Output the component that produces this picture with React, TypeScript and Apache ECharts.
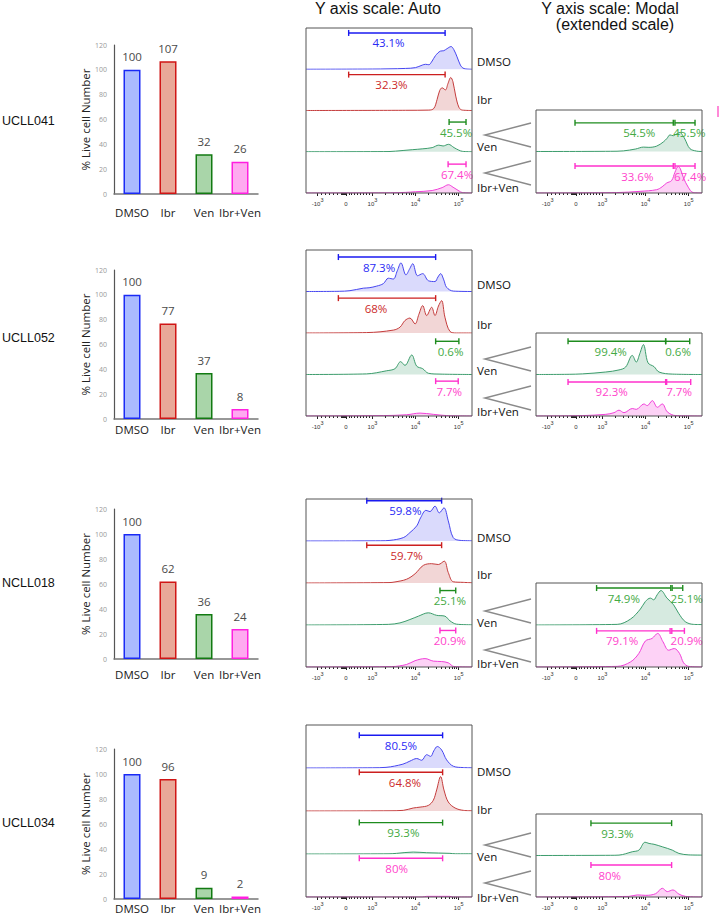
import React, { useEffect, useRef } from 'react';
import * as echarts from 'echarts';

type Pt = [number, number];
type Gate = [number, number, number, number, string];

// ---------------- data ----------------
const SAMPLES = ['UCLL041', 'UCLL052', 'NCLL018', 'UCLL034'];
const TREATMENTS = ['DMSO', 'Ibr', 'Ven', 'Ibr+Ven'];

const LIVE_UCLL041 = [100, 107, 32, 26];
const LIVE_UCLL052 = [100, 77, 37, 8];
const LIVE_NCLL018 = [100, 62, 36, 24];
const LIVE_UCLL034 = [100, 96, 9, 2];

// x axis in display units (0..100 across the panel)
const X_MAJOR = [7, 24, 40, 66, 92];
const X_LABELS: [string, string][] = [['-10', '3'], ['0', ''], ['10', '3'], ['10', '4'], ['10', '5']];

// histograms, [display x, % of row height]
const AUTO_UCLL041_DMSO: Pt[] = [[0, 0], [40, 0.5], [50, 1], [60, 2], [66, 4], [70, 10], [72, 12], [74, 11], [76, 20], [78, 33], [81, 44], [83, 45], [85, 50], [87.4, 55], [89, 48], [91, 30], [93, 10], [94.5, 3], [96, 1], [100, 0]];
const AUTO_UCLL041_IBR: Pt[] = [[0, 0], [60, 0.5], [74, 1], [77, 5], [79, 27], [80.5, 48], [82, 55], [84, 50], [85.5, 65], [87.2, 80], [88.5, 70], [90.2, 35], [92.2, 7], [94.2, 1], [100, 0]];
const AUTO_UCLL041_VEN: Pt[] = [[0, 0], [50, 0.5], [54, 1.5], [64, 5], [70, 7], [76, 10], [80, 16], [82.6, 14], [85.8, 18], [89.2, 10], [92, 4], [94.2, 1], [100, 0]];
const AUTO_UCLL041_IV: Pt[] = [[0, 0], [51, 0.5], [60, 1.5], [66, 3], [76, 6], [82, 13], [85.8, 20], [88.6, 14], [92.2, 5], [94.2, 1], [100, 0]];
const MODAL_UCLL041_VEN: Pt[] = [[0, 0], [45, 0.5], [52.6, 1.5], [60, 6], [64.7, 10.6], [68, 10], [72.7, 13], [76.7, 23], [79, 32], [80.7, 40], [82.7, 38], [84.5, 42], [86.7, 46], [88.5, 38], [89.7, 30], [92.7, 7], [96.7, 1], [100, 0]];
const MODAL_UCLL041_IV: Pt[] = [[0, 0], [48.6, 1], [62.7, 4], [72.7, 8], [76, 15], [78.7, 24], [81.7, 30], [83.7, 50], [85.7, 64], [87, 58], [88.7, 38], [91.7, 14], [94.7, 1], [100, 0]];

const AUTO_UCLL052_DMSO: Pt[] = [[0, 0], [20, 0.5], [26.5, 2], [34.5, 8], [38, 9], [42.6, 13], [46.6, 19], [49.6, 32], [52.6, 30], [55, 50], [57.2, 69], [60.2, 40], [62.5, 55], [64.3, 67], [67.2, 38], [70.3, 43], [73.7, 26], [77.7, 24], [79.5, 35], [81.1, 43], [83, 28], [84.7, 10], [88.7, 1], [100, 0]];
const AUTO_UCLL052_IBR: Pt[] = [[0, 0], [36.5, 1], [52.6, 7], [56.6, 14], [59.6, 30], [62.6, 36], [65.7, 22], [68, 45], [70.3, 66], [72.7, 42], [75.7, 62], [77.7, 42], [79.8, 65], [81.7, 78], [83.7, 38], [86.7, 4], [90.7, 0], [100, 0]];
const AUTO_UCLL052_VEN: Pt[] = [[0, 0], [36.5, 1.5], [48.6, 9], [53.6, 14], [57, 31], [59.6, 22], [63.7, 47], [66.7, 20], [70.3, 14], [73.7, 3], [80.7, 1], [100, 0]];
const AUTO_UCLL052_IV: Pt[] = [[0, 0], [46.6, 1], [60.6, 3], [68.7, 7], [76.7, 4], [84.7, 1], [100, 0]];
const MODAL_UCLL052_VEN: Pt[] = [[0, 0], [20, 0.5], [27.9, 1.5], [42, 6], [50, 11], [54, 18], [58, 46], [60.4, 30], [62.5, 50], [64.7, 72], [67.5, 28], [71.1, 19], [74.1, 6], [82.1, 1], [100, 0]];
const MODAL_UCLL052_IV: Pt[] = [[0, 0], [27.9, 1], [42, 4], [47, 8], [50, 14], [53, 8], [58, 18], [60.4, 16], [65, 29], [67, 25], [70.1, 37], [73.1, 21], [76.1, 29], [79.1, 10], [84.1, 1], [100, 0]];

const AUTO_NCLL018_DMSO: Pt[] = [[0, 0], [45, 0.5], [50.6, 1.5], [58.6, 8], [62.6, 20], [66.7, 36], [69, 55], [72.3, 73], [74.7, 70], [77.7, 83], [80.3, 67], [83.1, 79], [85.7, 48], [88.7, 8], [92.8, 1.5], [100, 0.5]];
const AUTO_NCLL018_IBR: Pt[] = [[0, 0], [50, 1], [53.6, 2.5], [60.6, 9], [65.7, 22], [70.7, 42], [75.7, 46], [79.7, 44], [83.3, 52], [85.7, 25], [88.7, 3], [94.8, 1.5], [100, 0.5]];
const AUTO_NCLL018_VEN: Pt[] = [[0, 0], [49.6, 1.5], [56.6, 5], [62.6, 13], [67.7, 21], [73.7, 29], [78.7, 23], [83.7, 21], [86.7, 10], [90.7, 2], [100, 0.5]];
const AUTO_NCLL018_IV: Pt[] = [[0, 0], [51.6, 1], [60.6, 6], [65.7, 15], [71.7, 20], [76.7, 14], [81.7, 13], [85.7, 10], [89.2, 1], [100, 0]];
const MODAL_NCLL018_VEN: Pt[] = [[0, 0], [48.9, 1.5], [56.9, 14], [62.9, 38], [65.9, 56], [68.9, 64], [70.9, 60], [73, 72], [75.3, 82], [78.9, 64], [82.9, 48], [85.9, 28], [89.9, 8], [94.8, 1.5], [100, 1]];
const MODAL_NCLL018_IV: Pt[] = [[0, 0], [48.9, 1.5], [56.9, 12], [61.9, 32], [65.9, 62], [69.9, 68], [73.3, 80], [76.5, 60], [79.9, 40], [83.3, 44], [86.5, 32], [88.9, 10], [92, 1.5], [100, 0]];

const AUTO_UCLL034_DMSO: Pt[] = [[0, 0], [40, 0.5], [48.2, 1.5], [58.4, 9], [62.6, 16], [66.7, 22], [69.7, 18], [72.7, 31], [75.1, 27], [77, 40], [79.1, 50], [81.7, 42], [84.7, 19], [88.8, 4], [94.8, 1], [100, 0.5]];
const AUTO_UCLL034_IBR: Pt[] = [[0, 0], [50, 0.5], [58.6, 1.5], [64.6, 7], [68.7, 9], [73.7, 13], [76.7, 25], [78.7, 49], [81.1, 80], [83.1, 49], [85.7, 21], [89.8, 7], [94.8, 1.5], [100, 0.5]];
const AUTO_UCLL034_VEN: Pt[] = [[0, 0], [50, 0.5], [54.6, 1.5], [64.6, 4.5], [72.7, 3], [86.7, 1.5], [90, 0.5], [100, 0.5]];
const AUTO_UCLL034_IV: Pt[] = [[0, 0], [70, 0], [72.7, 1.5], [86.7, 1.5], [88, 0], [100, 0]];
const MODAL_UCLL034_VEN: Pt[] = [[0, 0], [45, 0.5], [50, 1], [58, 9], [62, 13], [65.7, 32], [68.1, 29], [71.1, 27], [76.1, 21], [82.1, 13], [86.1, 5], [92.1, 1.5], [100, 1]];
const MODAL_UCLL034_IV: Pt[] = [[0, 0], [56, 1.5], [61, 5], [66.1, 4], [72.1, 8], [76.1, 21], [79.1, 13], [82.5, 17], [86.1, 7], [90.1, 1.5], [100, 0]];

// gates: [x start, x end, height %, label x, label]
const GATE_AUTO_UCLL041: Gate[][] = [
  [[25.7, 83.8, 88, 49.7, '43.1%']],
  [[25.7, 83.8, 87, 51.5, '32.3%']],
  [[86.2, 96.4, 72, 90.4, '45.5%']],
  [[85.6, 96.4, 70, 91, '67.4%']],
];
const GATE_MODAL_UCLL041: Gate[][] = [
  [[23.5, 82.7, 69, 62.2, '54.5%'], [83.7, 95.8, 69, 92.4, '45.5%']],
  [[23.5, 82.7, 65, 61, '33.6%'], [83.7, 95.8, 65, 92.8, '67.4%']],
];
const GATE_AUTO_UCLL052: Gate[][] = [
  [[19.5, 78.1, 83, 44, '87.3%']],
  [[19.5, 78.1, 84, 42.2, '68%']],
  [[78.1, 92.1, 80, 87.1, '0.6%']],
  [[78.1, 91.7, 84, 86.3, '7.7%']],
];
const GATE_MODAL_UCLL052: Gate[][] = [
  [[19.3, 78.1, 80, 45, '99.4%'], [78.1, 92.6, 80, 85.6, '0.6%']],
  [[19.3, 78.1, 82, 45.6, '92.3%'], [78.7, 93.2, 82, 86.2, '7.7%']],
];
const GATE_AUTO_NCLL018: Gate[][] = [
  [[36.6, 81.7, 96, 59.8, '59.8%']],
  [[36.6, 81.7, 90, 60.6, '59.7%']],
  [[80.7, 90.2, 82, 86.7, '25.1%']],
  [[80.7, 90.2, 87, 86.7, '20.9%']],
];
const GATE_MODAL_NCLL018: Gate[][] = [
  [[36.5, 81.2, 88, 52.9, '74.9%'], [82, 88.4, 88, 90.8, '25.1%']],
  [[36.5, 80.8, 86, 51.9, '79.1%'], [81.8, 89.4, 86, 90.8, '20.9%']],
];
const GATE_AUTO_UCLL034: Gate[][] = [
  [[32.1, 82.3, 76, 57.2, '80.5%']],
  [[32.1, 82.3, 90, 59.6, '64.8%']],
  [[32.1, 82.3, 73, 58.6, '93.3%']],
  [[32.1, 82.3, 90, 54.6, '80%']],
];
const GATE_MODAL_UCLL034: Gate[][] = [
  [[33.1, 81.7, 78, 49, '93.3%']],
  [[33.1, 81.7, 77, 44.4, '80%']],
];

const LIVE = [LIVE_UCLL041, LIVE_UCLL052, LIVE_NCLL018, LIVE_UCLL034];
const AUTO_HISTS = [
  [AUTO_UCLL041_DMSO, AUTO_UCLL041_IBR, AUTO_UCLL041_VEN, AUTO_UCLL041_IV],
  [AUTO_UCLL052_DMSO, AUTO_UCLL052_IBR, AUTO_UCLL052_VEN, AUTO_UCLL052_IV],
  [AUTO_NCLL018_DMSO, AUTO_NCLL018_IBR, AUTO_NCLL018_VEN, AUTO_NCLL018_IV],
  [AUTO_UCLL034_DMSO, AUTO_UCLL034_IBR, AUTO_UCLL034_VEN, AUTO_UCLL034_IV],
];
const MODAL_HISTS = [
  [MODAL_UCLL041_VEN, MODAL_UCLL041_IV],
  [MODAL_UCLL052_VEN, MODAL_UCLL052_IV],
  [MODAL_NCLL018_VEN, MODAL_NCLL018_IV],
  [MODAL_UCLL034_VEN, MODAL_UCLL034_IV],
];
const AUTO_GATES = [GATE_AUTO_UCLL041, GATE_AUTO_UCLL052, GATE_AUTO_NCLL018, GATE_AUTO_UCLL034];
const MODAL_GATES = [GATE_MODAL_UCLL041, GATE_MODAL_UCLL052, GATE_MODAL_NCLL018, GATE_MODAL_UCLL034];

// ---------------- styling / layout ----------------
const BAR_FILL = ['#aabbff', '#e9a898', '#a9d5a9', '#ffaaf0'];
const BAR_STROKE = ['#1a2af5', '#d01515', '#127a12', '#ff20e0'];
const LINE_C = ['#4646f0', '#c43c3c', '#3c9c6c', '#f040d8'];
const FILL_C = ['rgba(90,90,240,0.32)', 'rgba(196,70,70,0.32)', 'rgba(60,156,108,0.3)', 'rgba(245,70,220,0.35)'];
const GATE_C = ['#1a1af0', '#cc1f1f', '#1e8c1e', '#ff30cc'];
const GATE_TXT = ['#2a2af5', '#cc2a2a', '#44aa44', '#ff44cc'];

const BAR_TOP = [45, 270, 509, 749];
const BAR_BOTTOM = [194, 419, 659, 899];
const BAR_LEFT = 114;
const BAR_W = 144;
const BAR_LABEL_MARGIN = [12, 4, 9, 3];
const SAMPLE_LABEL_Y = [121, 338, 583, 823];
const AUTO_TOP = [28, 250, 499, 725];
const PANEL_BOTTOM = [193, 416, 667, 897];
const MODAL_TOP = [110, 333, 583, 814];
const AUTO_LEFT = 306;
const MODAL_LEFT = 536;
const PANEL_W = 166;
const TREAT_LABEL_Y = [[61, 99, 146, 187], [284, 324, 370, 411], [537, 574, 622, 663], [771, 809, 856, 897]];
const CHEVRON_Y = [[135, 173], [359, 398], [611, 650], [845, 883]];

const FONT = "'Open Sans', 'Liberation Sans', sans-serif";
const ARIAL = "'Liberation Sans', Arial, sans-serif";

function minorTicks(): number[] {
  const out: number[] = [];
  const [neg, zero, d3, d4, d5] = X_MAJOR;
  for (let j = 1; j <= 5; j++) out.push(neg + ((zero - 3 - neg) * j) / 6);
  for (let j = 0; j < 5; j++) out.push(zero - 3 + j * 0.6);
  for (let j = 1; j <= 8; j++) out.push(zero + ((d3 - zero) * j) / 9);
  const dec = d4 - d3;
  [d3, d4, d5].forEach((s) => {
    for (let k = 2; k <= 9; k++) {
      const p = s + dec * Math.log10(k);
      if (p < 99.5) out.push(p);
    }
  });
  return out;
}

function buildOption() {
  const grid: any[] = [];
  const xAxis: any[] = [];
  const yAxis: any[] = [];
  const series: any[] = [];
  const X_MINOR = minorTicks();

  // bar charts
  SAMPLES.forEach((_, i) => {
    const gi = grid.length;
    grid.push({ left: BAR_LEFT, top: BAR_TOP[i], width: BAR_W, height: BAR_BOTTOM[i] - BAR_TOP[i], outerBoundsMode: 'none' });
    xAxis.push({
      type: 'category', gridIndex: gi, data: TREATMENTS,
      axisLine: { lineStyle: { color: '#777', width: 1.5 } },
      axisTick: { show: false },
      axisLabel: { color: '#1a1a1a', fontSize: 11.5, fontFamily: FONT, margin: BAR_LABEL_MARGIN[i], interval: 0 },
    });
    yAxis.push({
      type: 'value', gridIndex: gi, min: 0, max: 120, interval: 20,
      axisLine: { show: true, lineStyle: { color: '#555', width: 1.2 } },
      axisTick: { show: false }, splitLine: { show: false },
      axisLabel: { color: '#999', fontSize: 7, margin: 7, fontFamily: FONT },
      name: '% Live cell Number', nameLocation: 'middle', nameGap: 23,
      nameTextStyle: { color: '#222', fontSize: 11.5, fontFamily: FONT },
    });
    series.push({
      type: 'bar', xAxisIndex: gi, yAxisIndex: gi, barWidth: 17,
      data: LIVE[i].map((v, k) => ({ value: v, itemStyle: { color: BAR_FILL[k], borderColor: BAR_STROKE[k], borderWidth: 1.5 } })),
      label: { show: true, position: 'top', distance: 7, color: '#4a4a4a', fontSize: 11.5, fontFamily: FONT },
    });
  });

  const addHist = (left: number, top: number, h: number, data: Pt[], gates: Gate[], t: number, bottom: boolean) => {
    const gi = grid.length;
    grid.push({ left, top, width: PANEL_W, height: h, outerBoundsMode: 'none' });
    const xi = xAxis.length;
    xAxis.push({
      type: 'value', gridIndex: gi, min: 0, max: 100,
      axisLine: { show: false }, splitLine: { show: false },
      axisTick: bottom ? { show: true, customValues: X_MAJOR, length: 3, lineStyle: { color: '#222', width: 1 } } : { show: false },
      axisLabel: bottom
        ? {
            show: true, customValues: X_MAJOR, margin: 4,
            formatter: (v: number) => {
              const idx = X_MAJOR.findIndex((m) => Math.abs(m - v) < 0.01);
              if (idx < 0) return '';
              const [b, s] = X_LABELS[idx];
              return s ? `{b|${b}}{s|${s}}` : `{b|${b}}`;
            },
            rich: {
              b: { fontSize: 6, color: '#333', fontFamily: ARIAL, lineHeight: 10, verticalAlign: 'bottom' },
              s: { fontSize: 5.5, color: '#333', fontFamily: ARIAL, lineHeight: 10, verticalAlign: 'top' },
            },
          }
        : { show: false },
    });
    if (bottom) {
      xAxis.push({
        type: 'value', gridIndex: gi, min: 0, max: 100, position: 'bottom',
        axisLine: { show: false }, splitLine: { show: false },
        axisTick: { show: true, customValues: X_MINOR, length: 2, lineStyle: { color: '#222', width: 1 } },
        axisLabel: { show: false },
      });
    }
    const yi = yAxis.length;
    yAxis.push({ type: 'value', gridIndex: gi, min: 0, max: 100, show: false, splitLine: { show: false } });
    series.push({
      type: 'line', xAxisIndex: xi, yAxisIndex: yi, data, smooth: 0.35, symbol: 'none', clip: true,
      lineStyle: { color: LINE_C[t], width: 1 }, areaStyle: { color: FILL_C[t] }, z: 2,
    });
    series.push({
      type: 'custom', xAxisIndex: xi, yAxisIndex: yi, z: 5,
      data: gates.map((g) => [g[0], g[1], g[2], g[3]]),
      renderItem: (params: any, api: any) => {
        const g = gates[params.dataIndex];
        const a = api.coord([g[0], g[2]]);
        const b = api.coord([g[1], g[2]]);
        const l = api.coord([g[3], g[2]]);
        const cap = 3;
        const ls = { stroke: GATE_C[t], lineWidth: 1.4 };
        return {
          type: 'group',
          children: [
            { type: 'line', shape: { x1: a[0], y1: a[1], x2: b[0], y2: b[1] }, style: ls },
            { type: 'line', shape: { x1: a[0], y1: a[1] - cap, x2: a[0], y2: a[1] + cap }, style: ls },
            { type: 'line', shape: { x1: b[0], y1: b[1] - cap, x2: b[0], y2: b[1] + cap }, style: ls },
            {
              type: 'text', x: l[0], y: l[1] + 10,
              style: { text: g[4], fill: GATE_TXT[t], fontSize: 11.5, fontFamily: FONT, align: 'center', verticalAlign: 'middle', textAlign: 'center', textVerticalAlign: 'middle' },
            },
          ],
        };
      },
    });
  };

  SAMPLES.forEach((_, i) => {
    const rh = (PANEL_BOTTOM[i] - AUTO_TOP[i]) / 4;
    TREATMENTS.forEach((__, k) => {
      addHist(AUTO_LEFT, AUTO_TOP[i] + k * rh, rh, AUTO_HISTS[i][k], AUTO_GATES[i][k], k, k === 3);
    });
    const mh = (PANEL_BOTTOM[i] - MODAL_TOP[i]) / 2;
    [0, 1].forEach((k) => {
      addHist(MODAL_LEFT, MODAL_TOP[i] + k * mh, mh, MODAL_HISTS[i][k], MODAL_GATES[i][k], k + 2, k === 1);
    });
  });

  const txt = (text: string, x: number, y: number, size: number, family: string, align = 'left', fill = '#111') => ({
    type: 'text', x, y, z: 20,
    style: { text, fill, fontSize: size, fontFamily: family, align, verticalAlign: 'middle', textAlign: align, textVerticalAlign: 'middle' },
  });

  const graphic: any[] = [];
  graphic.push(txt('Y axis scale: Auto', 378, 8, 16, ARIAL, 'center'));
  graphic.push(txt('Y axis scale: Modal', 610, 8, 16, ARIAL, 'center'));
  graphic.push(txt('(extended scale)', 615, 24, 16, ARIAL, 'center'));
  SAMPLES.forEach((s, i) => {
    graphic.push(txt(s, 2, SAMPLE_LABEL_Y[i], 12.5, ARIAL));
    TREATMENTS.forEach((t, k) => graphic.push(txt(t, 477, TREAT_LABEL_Y[i][k], 11.5, FONT)));
    graphic.push({
      type: 'rect', z: 15, shape: { x: AUTO_LEFT, y: AUTO_TOP[i], width: PANEL_W, height: PANEL_BOTTOM[i] - AUTO_TOP[i] },
      style: { fill: 'none', stroke: '#555', lineWidth: 1 },
    });
    graphic.push({
      type: 'rect', z: 15, shape: { x: MODAL_LEFT, y: MODAL_TOP[i], width: PANEL_W, height: PANEL_BOTTOM[i] - MODAL_TOP[i] },
      style: { fill: 'none', stroke: '#555', lineWidth: 1 },
    });
    CHEVRON_Y[i].forEach((cy) => {
      graphic.push({
        type: 'polyline', z: 15, shape: { points: [[531, cy - 12], [485, cy], [531, cy + 12]] },
        style: { fill: 'none', stroke: '#8a8a8a', lineWidth: 1.5 },
      });
    });
  });
  graphic.push({ type: 'rect', z: 15, shape: { x: 717, y: 106, width: 2, height: 11 }, style: { fill: '#ff8ad8' } });

  return { animation: false, backgroundColor: '#fff', grid, xAxis, yAxis, series, graphic };
}

export default function App() {
  const ref = useRef<HTMLDivElement>(null);
  useEffect(() => {
    if (!ref.current) return;
    const chart = echarts.init(ref.current, undefined, { renderer: 'svg' });
    chart.setOption(buildOption() as any);
    return () => chart.dispose();
  }, []);
  return <div ref={ref} style={{ position: 'fixed', left: 0, top: 0, width: 720, height: 914, background: '#fff' }} />;
}
